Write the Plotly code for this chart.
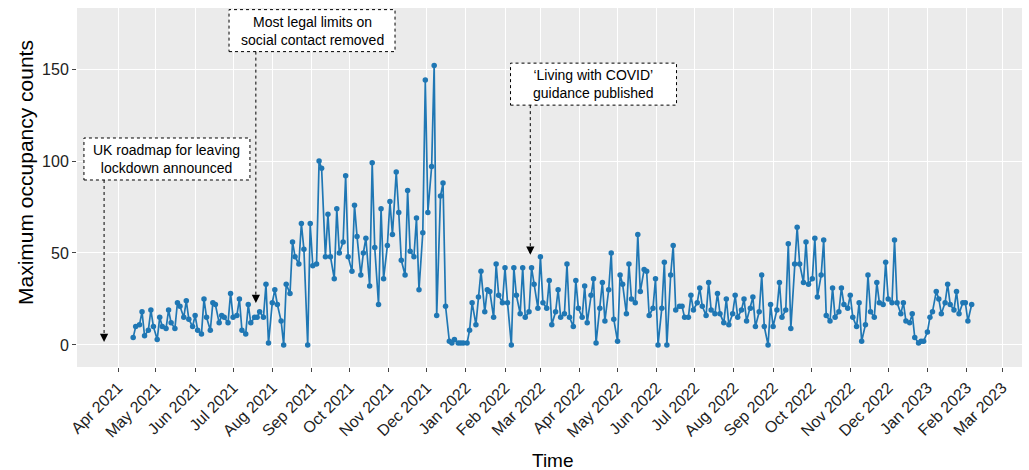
import pandas as pd
import plotly.graph_objects as go

# ---------------- data ----------------
first_week = "2021-04-12"   # Monday of the first week with data
n_weeks = 95
# three readings per week: Tuesday, Thursday, Sunday
tue_counts = [4, 18, 19, 15, 19, 23, 24, 16, 25, 23,
              16, 28, 25, 22, 15, 33, 30, 0, 56, 66,
              66, 100, 71, 74, 92, 76, 50, 99, 74, 78,
              72, 84, 69, 144, 152, 88, 1, 1, 8, 26,
              30, 44, 42, 42, 42, 42, 48, 35, 30, 44,
              35, 32, 36, 34, 50, 38, 44, 60, 40, 36,
              45, 54, 21, 27, 31, 34, 28, 25, 27, 25,
              26, 38, 22, 34, 55, 64, 56, 58, 57, 31,
              31, 27, 23, 38, 34, 45, 57, 23, 17, 2,
              15, 25, 33, 29, 23]
thu_counts = [10, 5, 10, 10, 12, 21, 14, 8, 15, 22,
              15, 15, 8, 12, 18, 1, 22, 33, 48, 52,
              43, 96, 48, 50, 48, 59, 58, 53, 36, 60,
              46, 51, 30, 72, 16, 21, 3, 1, 23, 40,
              29, 27, 23, 27, 15, 33, 23, 11, 15, 15,
              20, 12, 1, 13, 14, 33, 25, 29, 16, 0,
              0, 19, 15, 19, 21, 19, 17, 11, 15, 13,
              10, 10, 10, 15, 9, 44, 33, 26, 16, 15,
              22, 15, 2, 18, 23, 25, 23, 13, 4, 2,
              18, 17, 22, 17, 13]
sun_counts = [11, 8, 3, 9, 9, 15, 10, 6, 8, 12,
              12, 16, 6, 15, 15, 23, 13, 28, 44, 0,
              44, 48, 36, 56, 40, 38, 32, 22, 54, 94,
              38, 48, 61, 97, 81, 2, 1, 1, 11, 18,
              15, 23, 0, 17, 18, 20, 20, 18, 17, 10,
              15, 27, 20, 30, 2, 17, 23, 41, 20, 20,
              38, 21, 15, 23, 16, 17, 12, 17, 19, 20,
              18, 0, 19, 19, 44, 34, 36, 38, 13, 18,
              20, 10, 11, 15, 22, 23, 17, 12, 1, 7,
              29, 23, 19, 23, 22]

tick_dates = ["2021-04-01", "2021-05-01", "2021-06-01", "2021-07-01", "2021-08-01",
              "2021-09-01", "2021-10-01", "2021-11-01", "2021-12-01", "2022-01-01",
              "2022-02-01", "2022-03-01", "2022-04-01", "2022-05-01", "2022-06-01",
              "2022-07-01", "2022-08-01", "2022-09-01", "2022-10-01", "2022-11-01",
              "2022-12-01", "2023-01-01", "2023-02-01", "2023-03-01"]
tick_labels = ["Apr 2021", "May 2021", "Jun 2021", "Jul 2021", "Aug 2021",
               "Sep 2021", "Oct 2021", "Nov 2021", "Dec 2021", "Jan 2022",
               "Feb 2022", "Mar 2022", "Apr 2022", "May 2022", "Jun 2022",
               "Jul 2022", "Aug 2022", "Sep 2022", "Oct 2022", "Nov 2022",
               "Dec 2022", "Jan 2023", "Feb 2023", "Mar 2023"]
y_ticks = [0, 50, 100, 150]

event_dates = ["2021-03-21", "2021-07-19", "2022-02-21"]
event_labels = ["UK roadmap for leaving<br>lockdown announced",
                "Most legal limits on<br>social contact removed",
                "\u2018Living with COVID\u2019<br>guidance published"]
event_tip_values = [1.6, 22.8, 49]

x_title = "Time"
y_title = "Maximum occupancy counts"

# ---------------- layout constants ----------------
box_centers = [("2021-05-09 17:00", 101.1), ("2021-09-01 10:00", 170.9), ("2022-04-12 00:00", 141.8)]
Y_RANGE = [-12, 183.2]
X_RANGE = ["2021-02-27 14:00", "2023-03-16 19:00"]
W, H = 1029, 470
ML, MR, MT, MB = 77, 7, 8, 103
PLOT_W = W - ML - MR
PLOT_H = H - MT - MB
PX_PER_UNIT = PLOT_H / (Y_RANGE[1] - Y_RANGE[0])
BOX_W, BOX_H = 166, 42
FONT = "Liberation Sans, Arial, Helvetica, sans-serif"


def paper_x(px):
    return (px - ML) / PLOT_W


def paper_y(py):
    return (H - MB - py) / PLOT_H


# ---------------- build series ----------------
week_start = pd.date_range(first_week, periods=n_weeks, freq="7D")
dates, counts = [], []
for ws, a, b, c in zip(week_start, tue_counts, thu_counts, sun_counts):
    dates += [ws + pd.Timedelta(days=1), ws + pd.Timedelta(days=3), ws + pd.Timedelta(days=6)]
    counts += [a, b, c]

fig = go.Figure()
fig.add_trace(go.Scatter(
    x=dates, y=counts, mode="lines+markers",
    line=dict(color="#1f77b4", width=1.7),
    marker=dict(color="#1f77b4", size=5.5),
    hoverinfo="skip",
))

shapes = []
annotations = []
for d, lab, tip, (bx, by) in zip(event_dates, event_labels, event_tip_values, box_centers):
    shapes.append(dict(type="rect", xref="x", yref="y", xsizemode="pixel", ysizemode="pixel",
                       xanchor=bx, yanchor=by, x0=-BOX_W / 2, x1=BOX_W / 2,
                       y0=-BOX_H / 2, y1=BOX_H / 2,
                       line=dict(color="black", width=1, dash="dot"),
                       fillcolor="white", layer="above"))
    annotations.append(dict(x=bx, y=by, xref="x", yref="y", text=lab, showarrow=False,
                            font=dict(family=FONT, size=14, color="black"),
                            align="center", xanchor="center", yanchor="middle"))
    box_bottom = by - (BOX_H / 2) / PX_PER_UNIT
    shapes.append(dict(type="line", xref="x", yref="y", x0=d, x1=d,
                       y0=box_bottom, y1=tip + 6 / PX_PER_UNIT,
                       line=dict(color="black", width=1, dash="dot"), layer="above"))
    annotations.append(dict(x=d, y=tip, xref="x", yref="y", text="", showarrow=True,
                            ax=0, ay=-8, arrowhead=2, arrowsize=1.1, arrowwidth=1.5,
                            arrowcolor="black", standoff=0))

# axis titles as annotations for exact placement
annotations.append(dict(x=paper_x(553), y=paper_y(460), xref="paper", yref="paper",
                        text=x_title, showarrow=False, xanchor="center", yanchor="middle",
                        font=dict(family=FONT, size=19, color="black")))
annotations.append(dict(x=paper_x(25), y=paper_y(173), xref="paper", yref="paper",
                        text=y_title, showarrow=False, textangle=-90,
                        xanchor="center", yanchor="middle",
                        font=dict(family=FONT, size=21, color="black")))

fig.update_layout(
    width=W, height=H,
    margin=dict(l=ML, r=MR, t=MT, b=MB),
    plot_bgcolor="#EBEBEB", paper_bgcolor="white",
    showlegend=False,
    font=dict(family=FONT, color="black"),
    shapes=shapes, annotations=annotations,
)
fig.update_xaxes(
    range=X_RANGE, tickvals=tick_dates, ticktext=tick_labels, tickangle=-45,
    showgrid=True, gridcolor="white", gridwidth=1.3, zeroline=False, showline=False,
    ticks="outside", ticklen=4, tickwidth=1, tickcolor="#444",
    tickfont=dict(family=FONT, size=16, color="#222"),
    automargin=False,
)
fig.update_yaxes(
    range=Y_RANGE, tickvals=y_ticks, showgrid=True, gridcolor="white", gridwidth=1.3,
    zeroline=False, showline=False,
    ticks="outside", ticklen=4, tickwidth=1, tickcolor="#444",
    tickfont=dict(family=FONT, size=16, color="#222"),
    automargin=False,
)

fig.write_html("out.html")
